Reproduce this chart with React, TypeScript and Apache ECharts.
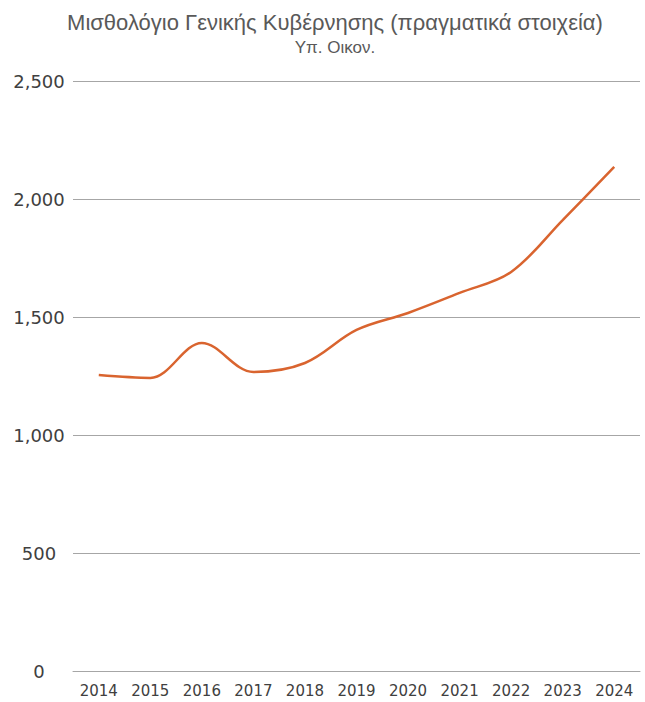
import React, { useEffect, useRef } from "react";
import * as echarts from "echarts";

const years = ["2014", "2015", "2016", "2017", "2018", "2019", "2020", "2021", "2022", "2023", "2024"];
const payroll = [1254, 1242, 1390, 1267, 1305, 1445, 1517, 1602, 1691, 1911, 2136];
const titleText = "Μισθολόγιο Γενικής Κυβέρνησης (πραγματικά στοιχεία)";
const subtitleText = "Υπ. Οικον.";

export default function App() {
  const ref = useRef<HTMLDivElement>(null);
  useEffect(() => {
    if (!ref.current) return;
    const chart = echarts.init(ref.current, null, { renderer: "svg" });
    chart.setOption({
      animation: false,
      backgroundColor: "#ffffff",
      title: {
        text: titleText,
        subtext: subtitleText,
        left: 330,
        textAlign: "center",
        top: 6,
        itemGap: 6,
        textStyle: { fontFamily: "Liberation Sans", fontSize: 22, fontWeight: "normal", color: "#595959" },
        subtextStyle: { fontFamily: "Liberation Sans", fontSize: 17, color: "#595959" },
      },
      grid: { left: 73, right: 5, top: 81, bottom: 31 },
      xAxis: {
        type: "category",
        data: years,
        boundaryGap: true,
        axisLine: { lineStyle: { color: "#a6a6a6", width: 1 } },
        axisTick: { show: false },
        axisLabel: { fontFamily: "DejaVu Sans", fontSize: 15, color: "#404040", margin: 12 },
      },
      yAxis: {
        type: "value",
        min: 0,
        max: 2500,
        interval: 500,
        axisLine: { show: false },
        axisTick: { show: false },
        splitLine: { lineStyle: { color: "#a6a6a6", width: 1 } },
        axisLabel: {
          fontFamily: "DejaVu Sans",
          fontSize: 18,
          color: "#404040",
          align: "center",
          margin: 34,
          formatter: (v: number) => v.toLocaleString("en-US"),
        },
      },
      series: [
        {
          type: "line",
          data: payroll,
          smooth: 0.35,
          symbol: "none",
          lineStyle: { color: "#d9642f", width: 2.5 },
        },
      ],
    });
    return () => chart.dispose();
  }, []);
  return <div ref={ref} style={{ position: "fixed", left: 0, top: 0, width: 645, height: 702 }} />;
}
